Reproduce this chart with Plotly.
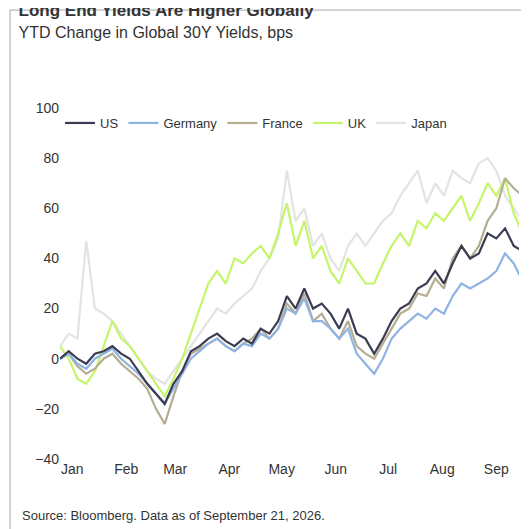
import plotly.graph_objects as go
import pandas as pd

dates = pd.date_range("2026-01-01", periods=54, freq="5D")
us = [0,3,0,-2,2,3, 5,2,0,-5,-10,-14, -18,-10,-5,3,5,8, 10,7,5,8,6,12, 10,15,25,20,28,20, 22,18,12,20,10,8, 2,8,15,20,22,28, 30,35,30,38,45,40,42, 50,48,52,45,43]
germany = [0,2,-2,-4,0,2, 4,0,-3,-6,-10,-14, -18,-12,-6,0,3,6, 8,5,3,6,5,10, 8,12,20,18,24,15, 15,12,8,12,2,-2, -6,0,8,12,15,18, 16,20,18,25,30,28,30, 32,35,42,38,31]
france = [0,2,-3,-6,-4,0, 2,-2,-5,-8,-12,-20, -26,-15,-5,2,4,6, 8,5,3,6,8,12, 8,12,22,18,26,15, 18,12,8,15,5,2, 0,6,12,18,20,26, 25,32,28,40,45,40,45, 55,60,72,68,65]
uk = [5,0,-8,-10,-5,5, 15,8,5,0,-5,-10, -15,-8,0,10,20,30, 35,30,40,38,42,45, 40,50,62,45,55,40, 45,35,30,40,35,30, 30,38,45,50,45,55, 52,58,55,60,65,55,62, 70,65,72,58,50]
japan = [5,10,8,47,20,18, 15,10,5,0,-5,-8, -10,-5,0,5,10,15, 20,18,22,25,28,35, 40,48,75,55,60,45, 50,40,35,45,50,45, 50,55,58,65,70,75, 62,70,65,75,72,70,78, 80,75,65,60,55]
names = ["US", "Germany", "France", "UK", "Japan"]
colors = ["#3d3b52", "#8fb4e3", "#b5ad91", "#c5f56b", "#e3e3e3"]
series = [us, germany, france, uk, japan]
month_labels = ["Jan","Feb","Mar","Apr","May","Jun","Jul","Aug","Sep"]

fig = go.Figure()
for n, c, s in reversed(list(zip(names, colors, series))):
    fig.add_trace(go.Scatter(x=dates, y=s, name=n, mode="lines", line=dict(color=c, width=2.2)))

tickvals = [pd.Timestamp(f"2026-{m:02d}-08") for m in range(1, 10)]
fig.update_layout(
    width=529, height=529, plot_bgcolor="white", paper_bgcolor="white",
    font=dict(family="Liberation Sans, Arial", size=14, color="#333"),
    margin=dict(l=52, r=18, t=100, b=78),
    title=dict(text="<b>Long End Yields Are Higher Globally</b><br><span style='font-size:16px'>YTD Change in Global 30Y Yields, bps</span>",
               xref="container", yref="container", x=0.02, y=0.985, xanchor="left", yanchor="top",
               font=dict(size=17, color="#333")),
    legend=dict(orientation="h", x=0.0, y=1.0, xanchor="left", yanchor="top", traceorder="reversed",
                font=dict(size=13), itemwidth=30, bgcolor="rgba(0,0,0,0)"),
    xaxis=dict(range=[pd.Timestamp("2026-01-01"), pd.Timestamp("2026-09-21")], tickvals=tickvals,
               ticktext=month_labels, showgrid=False, showline=False, ticks=""),
    yaxis=dict(range=[-40, 100], dtick=20, showgrid=False, zeroline=False, showline=False, ticks=""),
    annotations=[dict(text="Source: Bloomberg. Data as of September 21, 2026.", xref="paper", yref="paper",
                      x=-0.087, y=-0.135, xanchor="left", yanchor="top", showarrow=False, font=dict(size=13))],
    shapes=[dict(type="rect", xref="paper", yref="paper", x0=-0.109, x1=1.03, y0=-0.211, y1=1.279,
                 line=dict(color="#aaa", width=1))],
)
fig.write_html("out.html")
